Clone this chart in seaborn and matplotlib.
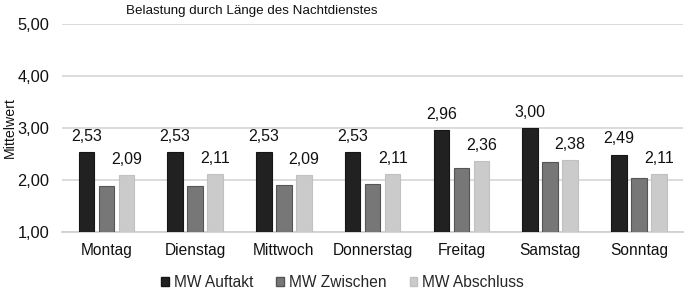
import matplotlib
matplotlib.use("Agg")
import matplotlib.pyplot as plt
import seaborn as sns
import pandas as pd
from matplotlib.ticker import FuncFormatter, FixedLocator

days = ["Montag", "Dienstag", "Mittwoch", "Donnerstag", "Freitag", "Samstag", "Sonntag"]
series = ["MW Auftakt", "MW Zwischen", "MW Abschluss"]
auftakt = [2.53, 2.53, 2.53, 2.53, 2.96, 3.00, 2.49]
zwischen = [1.88, 1.88, 1.91, 1.93, 2.23, 2.34, 2.04]
abschluss = [2.09, 2.11, 2.09, 2.11, 2.36, 2.38, 2.11]
yticks = [1.0, 2.0, 3.0, 4.0, 5.0]

df = pd.DataFrame({
    "Tag": days * 3,
    "Serie": [series[0]] * 7 + [series[1]] * 7 + [series[2]] * 7,
    "Wert": auftakt + zwischen + abschluss,
})

sns.set_theme(style="white")
plt.rcParams["font.family"] = ["Liberation Sans", "DejaVu Sans"]

fig = plt.figure(figsize=(6.85, 2.89), dpi=100)
ax = fig.add_axes([0.0905, 0.197, 0.907, 0.72])

palette = {series[0]: "#212121", series[1]: "#777777", series[2]: "#cbcbcb"}
edges = ["#151515", "#555555", "#c0c0c0"]

sns.barplot(data=df, x="Tag", y="Wert", hue="Serie", order=days, hue_order=series,
            palette=palette, width=0.678, gap=0.23, ax=ax, zorder=3,
            legend=True)

# bars should start at 1.00 (axis minimum)
for ci, cont in enumerate(ax.containers):
    for bar in cont:
        h = bar.get_height()
        bar.set_y(1.0)
        bar.set_height(h - 1.0)
        bar.set_edgecolor(edges[ci])
        bar.set_linewidth(0.8)

fmt = lambda v: f"{v:.2f}".replace(".", ",")
ax.bar_label(ax.containers[0], labels=[fmt(v) for v in auftakt], padding=6, fontsize=11.5, color="#111111")
ax.bar_label(ax.containers[2], labels=[fmt(v) for v in abschluss], padding=6, fontsize=11.5, color="#111111")

ax.set_ylim(1.0, 5.0)
ax.set_xlim(-0.5, 6.5)
ax.yaxis.set_major_locator(FixedLocator(yticks))
ax.yaxis.set_major_formatter(FuncFormatter(lambda v, p: f"{v:.2f}".replace(".", ",")))
ax.grid(axis="y", color="#d9d9d9", linewidth=1.3, zorder=0)
ax.set_axisbelow(True)
for s in ["top", "right", "left"]:
    ax.spines[s].set_visible(False)
ax.spines["bottom"].set_color("#d0d0d0")
ax.spines["bottom"].set_linewidth(1.3)
ax.tick_params(axis="both", length=0, colors="#111111")
ax.tick_params(axis="x", labelsize=11.2, pad=8)
ax.tick_params(axis="y", labelsize=11.8, pad=9)
ax.set_xlabel("")
ax.set_ylabel("")
fig.text(10 / 685, 0.557, "Mittelwert", rotation=90, ha="center", va="center",
         fontsize=10.2, color="#111111")

ax.set_title("Belastung durch Länge des Nachtdienstes", fontsize=9.6, color="#111111",
             pad=0, y=1.05, x=0.306)

leg = ax.legend(loc="center", bbox_to_anchor=(0.5, 0.022), bbox_transform=fig.transFigure,
                ncol=3, frameon=False, fontsize=11.2, handlelength=0.5, handleheight=0.5,
                handletextpad=0.3, columnspacing=1.5)
for h, e in zip(leg.legend_handles, edges):
    h.set_edgecolor(e)

fig.savefig("out.png", dpi=100)
